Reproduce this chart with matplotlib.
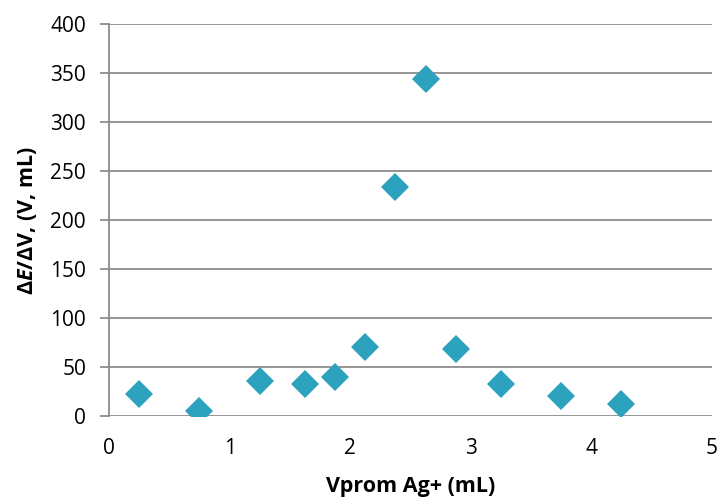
import matplotlib
matplotlib.use('Agg')
import matplotlib.pyplot as plt

# data
vprom = [0.25, 0.75, 1.25, 1.625, 1.875, 2.125, 2.375, 2.625, 2.875, 3.25, 3.75, 4.25]
dEdV = [22, 5, 36, 32, 40, 70, 234, 344, 68, 32, 20, 12]

plt.rcParams['font.family'] = ['Open Sans', 'DejaVu Sans']
plt.rcParams['mathtext.fontset'] = 'custom'
plt.rcParams['mathtext.bfit'] = 'Open Sans:italic:bold'
plt.rcParams['mathtext.rm'] = 'Open Sans'

grid_c = '#8c8c8c'

fig = plt.figure(figsize=(7.22, 5.04), dpi=100)
ax = fig.add_axes([0.151, 0.175, 0.835, 0.777])

ax.plot(vprom, dEdV, linestyle='none', marker='D', markersize=14,
        color='#2DA2BF', markeredgewidth=0, zorder=3)

ax.set_xlim(0, 5)
ax.set_ylim(0, 400)
ax.set_yticks(range(0, 401, 50))
ax.set_xticks(range(0, 6))
ax.yaxis.grid(True, color=grid_c, linewidth=1.3)
ax.set_axisbelow(True)

for s in ['top', 'right', 'bottom']:
    ax.spines[s].set_visible(False)
ax.spines['left'].set_color(grid_c)
ax.spines['left'].set_linewidth(1.3)

ax.tick_params(axis='y', length=6.5, width=1.3, color=grid_c, labelsize=15, pad=10)
ax.tick_params(axis='x', length=0, labelsize=15, pad=16)

ax.set_xlabel('Vprom Ag+ (mL)', fontsize=15.5, fontweight='bold', labelpad=12)
ax.set_ylabel(r'Δ$\mathbfit{E}$/ΔV, (V, mL)', fontsize=15.5, fontweight='bold', labelpad=8)

fig.savefig('out.png', dpi=100)
